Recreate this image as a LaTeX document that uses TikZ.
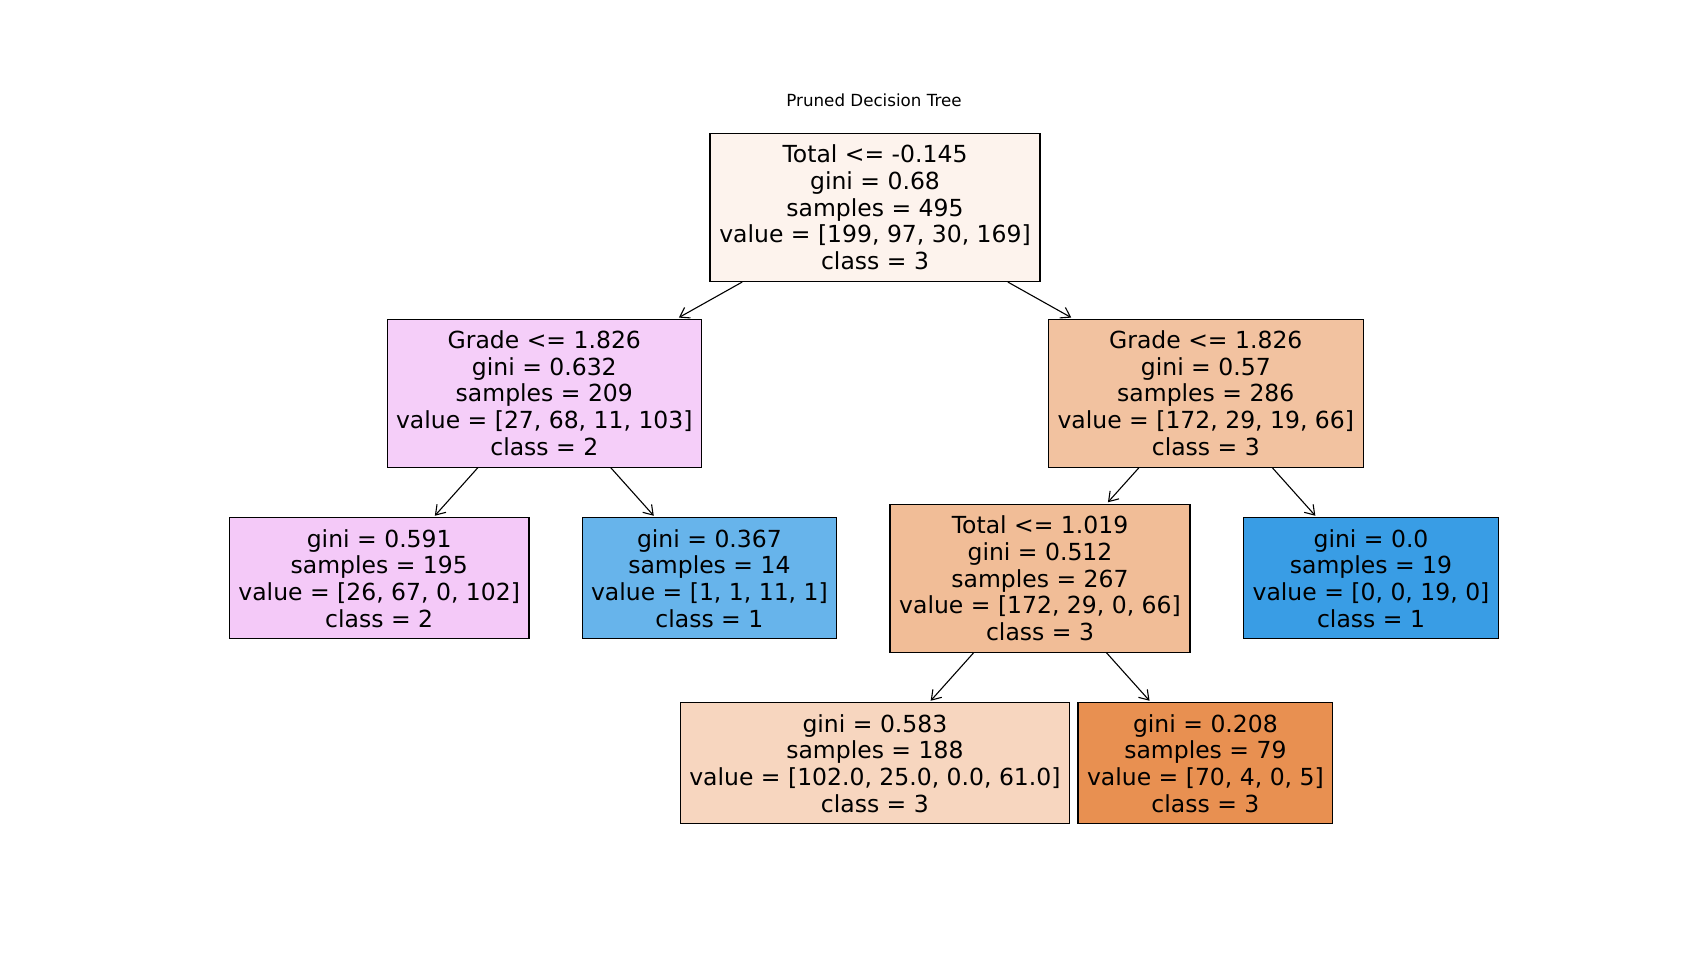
\documentclass[tikz,border=0pt]{standalone}
\usepackage{fontspec}
\setmainfont{DejaVu Sans}
\usetikzlibrary{arrows.meta}

% Node fill colours (class colour blended with white by purity)
\definecolor{rootfill}{RGB}{253,243,237}
\definecolor{gradeLfill}{RGB}{245,206,249}
\definecolor{gradeRfill}{RGB}{242,194,160}
\definecolor{pinkleaf}{RGB}{244,201,248}
\definecolor{blueleafA}{RGB}{103,180,235}
\definecolor{totalfill}{RGB}{241,189,151}
\definecolor{blueleafB}{RGB}{57,157,229}
\definecolor{lightorange}{RGB}{247,214,191}
\definecolor{darkorange}{RGB}{232,144,81}

\tikzset{
  treenode/.style={draw=black, line width=1.1pt, inner sep=0pt, align=center,
    font=\fontsize{23.5}{26.7}\selectfont, text=black},
  split/.style={treenode, minimum height=148pt},
  leaf/.style={treenode, minimum height=121pt},
  edge/.style={line width=1.1pt, -{Straight Barb[length=9pt,width=12pt,line width=1.1pt]}, shorten >=2pt}
}

\begin{document}
\begin{tikzpicture}[x=1pt,y=-1pt]
  \useasboundingbox (0,0) rectangle (1706,962);

  \node (title) at (874,100) {\fontsize{16.7}{19}\selectfont Pruned Decision Tree};

  % internal split nodes
  \node[split, fill=rootfill, minimum width=330pt] (root) at (875,207.5)
    {Total <= -0.145\\gini = 0.68\\samples = 495\\value = [199, 97, 30, 169]\\class = 3};
  \node[split, fill=gradeLfill, minimum width=314.5pt] (gradeL) at (544.3,393.1)
    {Grade <= 1.826\\gini = 0.632\\samples = 209\\value = [27, 68, 11, 103]\\class = 2};
  \node[split, fill=gradeRfill, minimum width=315pt] (gradeR) at (1205.8,393.1)
    {Grade <= 1.826\\gini = 0.57\\samples = 286\\value = [172, 29, 19, 66]\\class = 3};
  \node[split, fill=totalfill, minimum width=300pt] (total) at (1040,578.3)
    {Total <= 1.019\\gini = 0.512\\samples = 267\\value = [172, 29, 0, 66]\\class = 3};

  % leaves
  \node[leaf, fill=pinkleaf, minimum width=299.5pt] (leafA) at (379.2,578.3)
    {gini = 0.591\\samples = 195\\value = [26, 67, 0, 102]\\class = 2};
  \node[leaf, fill=blueleafA, minimum width=254.7pt] (leafB) at (709.4,578.3)
    {gini = 0.367\\samples = 14\\value = [1, 1, 11, 1]\\class = 1};
  \node[leaf, fill=blueleafB, minimum width=255pt] (leafC) at (1371,578.3)
    {gini = 0.0\\samples = 19\\value = [0, 0, 19, 0]\\class = 1};
  \node[leaf, fill=lightorange, minimum width=389.5pt] (leafD) at (874.9,763.3)
    {gini = 0.583\\samples = 188\\value = [102.0, 25.0, 0.0, 61.0]\\class = 3};
  \node[leaf, fill=darkorange, minimum width=254.8pt] (leafE) at (1205.4,763.3)
    {gini = 0.208\\samples = 79\\value = [70, 4, 0, 5]\\class = 3};

  % edges
  \draw[edge] (root) -- (gradeL);
  \draw[edge] (root) -- (gradeR);
  \draw[edge] (gradeL) -- (leafA);
  \draw[edge] (gradeL) -- (leafB);
  \draw[edge] (gradeR) -- (total);
  \draw[edge] (gradeR) -- (leafC);
  \draw[edge] (total) -- (leafD);
  \draw[edge] (total) -- (leafE);
\end{tikzpicture}
\end{document}
